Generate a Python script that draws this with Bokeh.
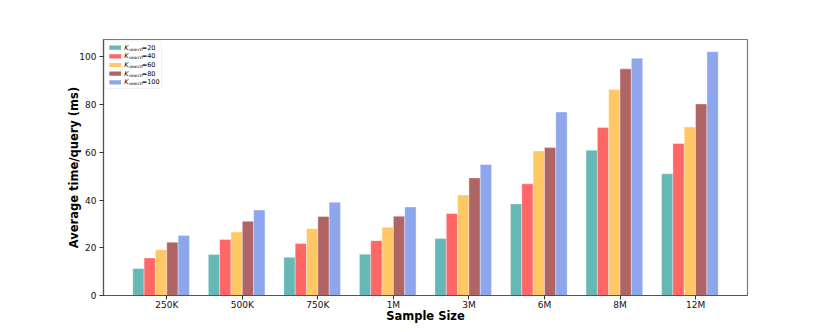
from bokeh.plotting import figure
from bokeh.models import (ColumnDataSource, Range1d, FixedTicker, BoxAnnotation)
from bokeh.core.properties import value
from bokeh.embed import file_html
from bokeh.resources import INLINE

# ---------------- data ----------------
categories = ["250K", "500K", "750K", "1M", "3M", "6M", "8M", "12M"]
k_values = ["20", "40", "60", "80", "100"]
k20 = [11.3, 17.2, 16.0, 17.3, 23.9, 38.4, 60.9, 51.0]
k40 = [15.7, 23.5, 21.8, 23.0, 34.4, 46.8, 70.4, 63.7]
k60 = [19.2, 26.6, 28.0, 28.6, 42.1, 60.6, 86.3, 70.6]
k80 = [22.3, 31.1, 33.1, 33.2, 49.3, 62.0, 95.0, 80.3]
k100 = [25.2, 35.8, 39.1, 37.1, 54.9, 76.9, 99.4, 102.2]
series = [k20, k40, k60, k80, k100]
colors = ["#66b8b6", "#ff6666", "#ffc864", "#b06464", "#8ea6ec"]
y_ticks = [0, 20, 40, 60, 80, 100]

# ---------------- layout constants ----------------
W, H = 830, 332
FL, FR, FT, FB = 103, 83, 39, 37          # borders around the frame
FRAME_W = W - FL - FR
FRAME_H = H - FT - FB
BAR_W = 0.15
n_cat = len(categories)
n_ser = len(series)
x_min_data = -BAR_W * 3               # left edge of first bar
x_max_data = (n_cat - 1) + BAR_W * 2  # right edge of last bar
pad = (x_max_data - x_min_data) * 0.05
X0, X1 = x_min_data - pad, x_max_data + pad
Y0, Y1 = 0, max(max(s) for s in series) * 1.05

p = figure(width=W, height=H, output_backend="svg", toolbar_location=None,
           x_range=Range1d(X0, X1), y_range=Range1d(Y0, Y1),
           min_border_left=FL, min_border_right=FR,
           min_border_top=FT, min_border_bottom=FB)
p.background_fill_color = "white"
p.border_fill_color = "white"
p.xgrid.visible = False
p.ygrid.visible = False
p.outline_line_color = "#7a7a7a"
p.outline_line_width = 1.2

for k, (vals, col) in enumerate(zip(series, colors)):
    xs = [i + (k - 2.5) * BAR_W for i in range(n_cat)]
    src = ColumnDataSource(dict(x=xs, top=vals))
    p.vbar(x="x", top="top", bottom=0, width=BAR_W, source=src,
           fill_color=col, line_color="white", line_width=0.6, line_alpha=0.6)

# axes
p.xaxis.ticker = FixedTicker(ticks=list(range(n_cat)))
p.xaxis.major_label_overrides = {i: c for i, c in enumerate(categories)}
p.yaxis.ticker = FixedTicker(ticks=y_ticks)
for ax in (p.xaxis[0], p.yaxis[0]):
    ax.axis_line_color = "#555555"
    ax.axis_line_width = 1.2
    ax.major_tick_line_color = "#333333"
    ax.major_tick_out = 4
    ax.major_tick_in = 0
    ax.minor_tick_out = 0
    ax.minor_tick_in = 0
    ax.major_label_text_font = "DejaVu Sans"
    ax.major_label_text_font_size = "9px"
    ax.major_label_text_color = "#111111"
    ax.axis_label_text_font = "DejaVu Sans"
    ax.axis_label_text_font_size = "11.5px"
    ax.axis_label_text_font_style = "bold"
    ax.axis_label_text_color = "black"
p.xaxis.major_label_standoff = 0
p.yaxis.major_label_standoff = 3
p.xaxis.axis_label = "Sample Size"
p.yaxis.axis_label = "Average time/query (ms)"
p.xaxis.axis_label_standoff = -4
p.yaxis.axis_label_standoff = -5

# ---------------- legend (drawn by hand for the subscript) ----------------
def fx(px):
    return X0 + px * (X1 - X0) / FRAME_W

def fy(py):
    return Y1 - py * (Y1 - Y0) / FRAME_H

p.add_layout(BoxAnnotation(left=fx(1.2), right=fx(58), top=fy(1.3), bottom=fy(49),
                           fill_color="white", fill_alpha=1.0, level="underlay",
                           line_color="#d0d0d0", line_width=1, border_radius=2))
row_y = [8.2 + 8.65 * i for i in range(n_ser)]
for i, col in enumerate(colors):
    p.add_layout(BoxAnnotation(left=fx(5.8), right=fx(17.6),
                               top=fy(row_y[i] - 2.1), bottom=fy(row_y[i] + 2.1),
                               fill_color=col, fill_alpha=1, line_alpha=0))
ly = [fy(r) for r in row_y]
p.text(x=[fx(20.8)] * n_ser, y=ly, text=["K"] * n_ser,
       text_font=value("DejaVu Sans"), text_font_style="italic",
       text_font_size="6.5px", text_baseline="middle", text_color="black")
p.text(x=[fx(25.2)] * n_ser, y=[fy(r + 1.6) for r in row_y], text=["search"] * n_ser,
       text_font=value("DejaVu Sans"), text_font_style="italic",
       text_font_size="4.2px", text_baseline="middle", text_color="black")
p.text(x=[fx(38.2)] * n_ser, y=ly, text=["=" + k for k in k_values],
       text_font=value("DejaVu Sans"), text_font_size="6.5px",
       text_baseline="middle", text_color="black")

open("out.html", "w").write(file_html(p, INLINE))
